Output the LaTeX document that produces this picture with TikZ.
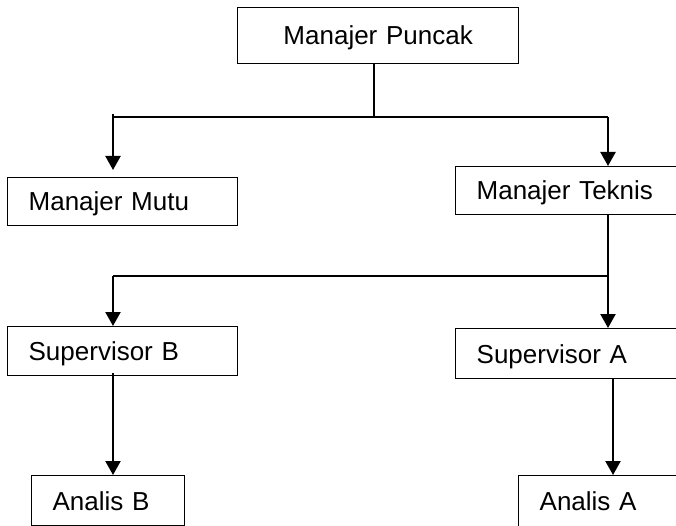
\documentclass[tikz,border=0pt]{standalone}
\usepackage{fontspec}
\setmainfont{Liberation Sans}
\usetikzlibrary{arrows.meta,positioning}

\begin{document}
\begin{tikzpicture}[
  x=1pt, y=-1pt,
  unit/.style={rectangle, draw, line width=1.3pt, anchor=north west, inner xsep=21pt, inner ysep=0pt, align=left, font=\fontsize{26pt}{30pt}\selectfont, text height=18.7pt, text depth=0pt},
  link/.style={line width=2.2pt},
  arrow/.style={link, -{Triangle[length=14pt, width=15pt]}},
]
  \useasboundingbox (0,0) rectangle (676,526);
  \clip (0,0) rectangle (676,526);

  \node[unit, align=center, text width=239pt, minimum height=56pt] (puncak) at (237,7) {Manajer Puncak};
  \node[unit, text width=188pt, minimum height=48pt] (mutu) at (7,177) {Manajer Mutu};
  \node[unit, text width=183pt, minimum height=48pt] (teknis) at (455,166) {Manajer Teknis};
  \node[unit, text width=188pt, minimum height=49pt] (supB) at (7,326) {Supervisor B};
  \node[unit, text width=183pt, minimum height=50pt] (supA) at (455,328) {Supervisor A};
  \node[unit, text width=111pt, minimum height=50pt] (analisB) at (31,475) {Analis B};
  \node[unit, text width=130pt, minimum height=55pt, text depth=5pt] (analisA) at (518,475) {Analis A};

  \coordinate (busL) at (113,117);
  \coordinate (busR) at (608,117);
  \coordinate (busM) at (374,117);
  \coordinate (subL) at (113,276);
  \coordinate (subR) at (608,276);
  \coordinate (stemA) at (613,0);

  \draw[line width=1.4pt] (busM |- puncak.south) -- (busM);
  \draw[link] (busL) -- (busR);
  \draw[arrow, shorten >=7pt] ([yshift=3pt]busL) -- (busL |- mutu.north);
  \draw[arrow] (busR) -- (busR |- teknis.north);
  \draw[link] (busR |- teknis.south) -- (subR);
  \draw[link] (subL) -- (subR);
  \draw[arrow] (subL) -- (subL |- supB.north);
  \draw[arrow] (subR) -- (subR |- supA.north);
  \draw[arrow] ([yshift=3pt]subL |- supB.south) -- (subL |- analisB.north);
  \draw[arrow] (stemA |- supA.south) -- (stemA |- analisA.north);
\end{tikzpicture}
\end{document}
